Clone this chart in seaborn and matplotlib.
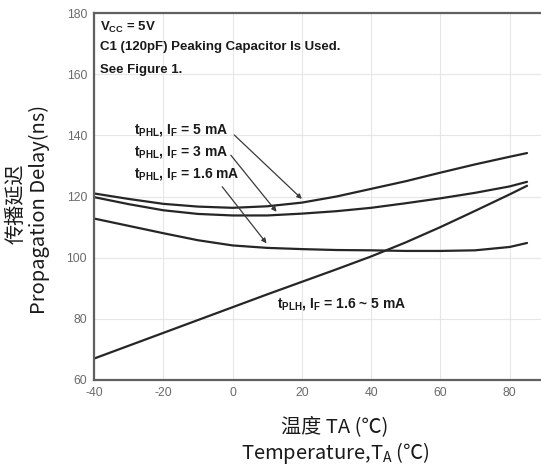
import numpy as np
import pandas as pd
import matplotlib
matplotlib.use('Agg')
import matplotlib.pyplot as plt
import seaborn as sns

# Temperature points (degC)
temps = [-40, -30, -20, -10, 0, 10, 20, 30, 40, 50, 60, 70, 80, 85]

# Propagation delay (ns) for each curve
tphl_5ma = [121.0, 119.2, 117.6, 116.7, 116.3, 116.8, 118.0, 120.0, 122.5, 125.0, 127.8, 130.5, 133.0, 134.2]
tphl_3ma = [119.8, 117.5, 115.5, 114.3, 113.8, 113.8, 114.4, 115.2, 116.3, 117.8, 119.4, 121.2, 123.3, 124.8]
tphl_16ma = [112.8, 110.4, 108.0, 105.7, 104.0, 103.2, 102.8, 102.5, 102.4, 102.2, 102.2, 102.4, 103.5, 104.8]
tplh = [67.0, 71.2, 75.4, 79.6, 83.8, 88.0, 92.1, 96.2, 100.4, 105.0, 110.0, 115.3, 120.7, 123.5]

xticks = [-40, -20, 0, 20, 40, 60, 80]
yticks = [60, 80, 100, 120, 140, 160, 180]

sns.set_style('whitegrid', {'grid.color': '#e6e6e6', 'axes.edgecolor': '#555555'})
plt.rcParams['font.family'] = ['Liberation Sans', 'DejaVu Sans']
plt.rcParams['mathtext.default'] = 'regular'
plt.rcParams['axes.unicode_minus'] = False

fig = plt.figure(figsize=(5.41, 4.71), dpi=100)
ax = fig.add_axes([94 / 541, 91 / 471, 485 / 541, 367 / 471])

df = pd.DataFrame({'T': temps * 4,
                   'delay': tphl_5ma + tphl_3ma + tphl_16ma + tplh,
                   'curve': ['5'] * len(temps) + ['3'] * len(temps) + ['1.6'] * len(temps) + ['plh'] * len(temps)})
sns.lineplot(data=df, x='T', y='delay', units='curve', estimator=None,
             color='#262626', lw=1.6, ax=ax)

ax.set_xlim(-40, 100)
ax.set_ylim(60, 180)
ax.set_xticks(xticks)
ax.set_yticks(yticks)
ax.tick_params(colors='#6a6a6a', labelsize=8.8, length=0, pad=5)
ax.set_xlabel('')
ax.set_ylabel('')
for s in ['left', 'top', 'bottom']:
    ax.spines[s].set_linewidth(1.6)
    ax.spines[s].set_color('#606060')
ax.spines['right'].set_visible(False)

bold = dict(fontweight='bold', fontsize=9.5, color='#1a1a1a')
ax.text(-38.3, 175.3, 'V$_{CC}$ = 5V', va='center', **bold)
ax.text(-38.3, 169.0, 'C1 (120pF) Peaking Capacitor Is Used.', va='center', **bold)
ax.text(-38.3, 161.3, 'See Figure 1.', va='center', **bold)

bold['fontsize'] = 10
ax.text(-28.4, 141.6, 't$_{PHL}$, I$_F$ = 5 mA', va='center', **bold)
ax.text(-28.4, 134.5, 't$_{PHL}$, I$_F$ = 3 mA', va='center', **bold)
ax.text(-28.4, 127.4, 't$_{PHL}$, I$_F$ = 1.6 mA', va='center', **bold)
ax.text(12.8, 84.8, 't$_{PLH}$, I$_F$ = 1.6 ~ 5 mA', va='center', **bold)

arrow = dict(arrowstyle='-|>', color='#3a3a3a', lw=0.9, mutation_scale=7, shrinkA=0, shrinkB=0)
ax.annotate('', xy=(20, 119.2), xytext=(0.5, 140.1), arrowprops=arrow)
ax.annotate('', xy=(12.7, 115.0), xytext=(-0.5, 133.5), arrowprops=arrow)
ax.annotate('', xy=(9.8, 104.7), xytext=(-3.0, 123.2), arrowprops=arrow)

lab = dict(family=['Noto Sans CJK SC', 'DejaVu Sans'], fontsize=14.5, color='#1a1a1a')
fig.text(16 / 541, 1 - 204 / 471, '传播延迟', rotation=90, ha='center', va='center', **lab)
fig.text(39 / 541, 1 - 209 / 471, 'Propagation Delay(ns)', rotation=90, ha='center', va='center', **lab)
fig.text(335 / 541, 1 - 427 / 471, '温度 TA (℃)', ha='center', va='center', **lab)
fig.text(335 / 541, 1 - 453 / 471, 'Temperature,T$_A$ (℃)', ha='center', va='center', **lab)

fig.savefig('out.png', dpi=100)
